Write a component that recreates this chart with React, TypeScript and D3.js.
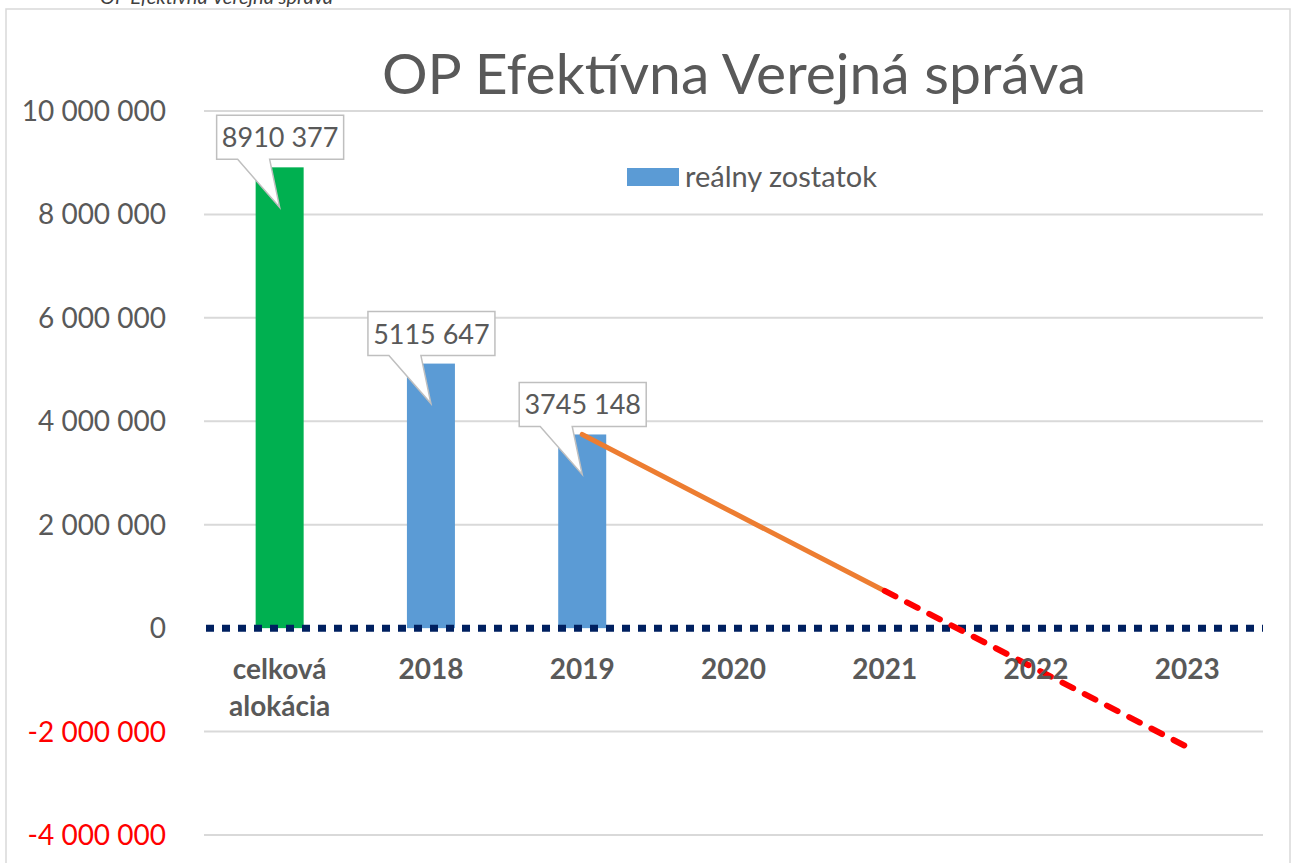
import React, { useEffect, useRef } from 'react';
import * as d3 from 'd3';

const W = 1292;
const H = 863;
const FONT = 'Lato, "Open Sans", sans-serif';
const TEXT = '#595959';

// categories on the x axis
const categories = ['celková alokácia', '2018', '2019', '2020', '2021', '2022', '2023'];
// bars: total allocation + real remaining balance
const allocation = [{ cat: 'celková alokácia', value: 8910377 }];
const remaining = [
  { cat: '2018', value: 5115647 },
  { cat: '2019', value: 3745148 },
];
// projected trend (solid part, then dashed below the threshold)
const trendSolid = [
  { cat: '2019', value: 3745148 },
  { cat: '2020', value: 2230000 },
  { cat: '2021', value: 720000 },
];
const trendDashed = [
  { cat: '2021', value: 720000 },
  { cat: '2022', value: -790000 },
  { cat: '2023', value: -2300000 },
];
const yTicks = [-4000000, -2000000, 0, 2000000, 4000000, 6000000, 8000000, 10000000];

export default function App() {
  const svgRef = useRef<SVGSVGElement>(null);

  useEffect(() => {
    const svg = d3.select(svgRef.current);
    svg.selectAll('*').remove();

    const x = d3.scaleBand().domain(categories).range([204, 1263]).paddingInner(0).paddingOuter(0);
    const y = d3.scaleLinear().domain([-4000000, 10000000]).range([835, 111]);
    const cx = (c: string) => (x(c) as number) + x.bandwidth() / 2;
    const fmtTick = (v: number) => d3.format(',')(v).replace(/,/g, ' ').replace('−', '-');
    // excel-style label: only the last group is separated
    const fmtLabel = (v: number) => {
      const s = String(Math.round(v));
      return s.slice(0, -3) + ' ' + s.slice(-3);
    };

    // chart border
    svg.append('rect').attr('x', 6).attr('y', 9).attr('width', 1284).attr('height', 900)
      .attr('fill', '#fff').attr('stroke', '#D9D9D9').attr('stroke-width', 1.5);

    // clipped header text above the chart
    svg.append('text').attr('x', 100).attr('y', 4).attr('font-family', FONT).attr('font-style', 'italic')
      .attr('font-size', 20).attr('fill', '#404040').text('OP Efektívna Verejná správa');

    // gridlines
    svg.append('g').selectAll('line').data(yTicks.filter(d => d !== 0)).join('line')
      .attr('x1', 204).attr('x2', 1263).attr('y1', d => y(d)).attr('y2', d => y(d))
      .attr('stroke', '#D9D9D9').attr('stroke-width', 2);

    // y tick labels
    svg.append('g').selectAll('text').data(yTicks).join('text')
      .attr('x', 166).attr('y', d => y(d) + 10).attr('text-anchor', 'end')
      .attr('font-family', FONT).attr('font-size', 28)
      .attr('fill', d => (d < 0 ? '#FF0000' : TEXT)).text(d => fmtTick(d));

    // title
    svg.append('text').attr('x', 734).attr('y', 94).attr('text-anchor', 'middle')
      .attr('font-family', FONT).attr('font-size', 57).attr('fill', TEXT)
      .text('OP Efektívna Verejná správa');

    // legend
    svg.append('rect').attr('x', 627).attr('y', 168).attr('width', 52).attr('height', 18).attr('fill', '#5B9BD5');
    svg.append('text').attr('x', 685).attr('y', 187).attr('font-family', FONT).attr('font-size', 29)
      .attr('fill', TEXT).text('reálny zostatok');

    const bw = 48;
    svg.append('g').selectAll('rect').data(allocation).join('rect')
      .attr('x', d => cx(d.cat) - bw / 2).attr('width', bw)
      .attr('y', d => y(d.value)).attr('height', d => y(0) - y(d.value)).attr('fill', '#00B050');
    svg.append('g').selectAll('rect').data(remaining).join('rect')
      .attr('x', d => cx(d.cat) - bw / 2).attr('width', bw)
      .attr('y', d => y(d.value)).attr('height', d => y(0) - y(d.value)).attr('fill', '#5B9BD5');

    // zero line (dotted)
    svg.append('line').attr('x1', 206).attr('x2', 1263).attr('y1', y(0)).attr('y2', y(0))
      .attr('stroke', '#002060').attr('stroke-width', 7).attr('stroke-dasharray', '8 8');

    // trend lines
    const line = d3.line<{ cat: string; value: number }>().x(d => cx(d.cat)).y(d => y(d.value));
    svg.append('path').datum(trendSolid).attr('d', line).attr('fill', 'none')
      .attr('stroke', '#ED7D31').attr('stroke-width', 5).attr('stroke-linecap', 'round');
    svg.append('path').datum(trendDashed).attr('d', line).attr('fill', 'none')
      .attr('stroke', '#FF0000').attr('stroke-width', 6).attr('stroke-linecap', 'round')
      .attr('stroke-dasharray', '12 13');

    // callout data labels
    const labels = [...allocation, ...remaining];
    const g = svg.append('g').selectAll('g').data(labels).join('g');
    g.append('path').attr('d', d => {
      const c = cx(d.cat);
      const top = y(d.value);
      const l = c - 63, r = c + 64, t = top - 52, b = top - 8;
      return `M${l},${t}H${r}V${b}H${c - 10}L${c},${top + 40}L${c - 42},${b}H${l}Z`;
    }).attr('fill', '#fff').attr('stroke', '#BFBFBF').attr('stroke-width', 1.5);
    g.append('text').attr('x', d => cx(d.cat) + 0.5).attr('y', d => y(d.value) - 20)
      .attr('text-anchor', 'middle').attr('font-family', FONT).attr('font-size', 27)
      .attr('fill', TEXT).text(d => fmtLabel(d.value));

    // x labels
    const xl = svg.append('g').selectAll('text').data(categories).join('text')
      .attr('x', d => cx(d)).attr('y', 679).attr('text-anchor', 'middle')
      .attr('font-family', FONT).attr('font-size', 28).attr('font-weight', 'bold').attr('fill', TEXT);
    xl.each(function (d) {
      const words = d.split(' ');
      const t = d3.select(this);
      words.forEach((w, i) => {
        t.append('tspan').attr('x', cx(d)).attr('dy', i === 0 ? 0 : 37).text(w);
      });
    });
  }, []);

  return (
    <svg ref={svgRef} width={W} height={H} style={{ position: 'absolute', left: 0, top: 0, background: '#fff' }} />
  );
}
